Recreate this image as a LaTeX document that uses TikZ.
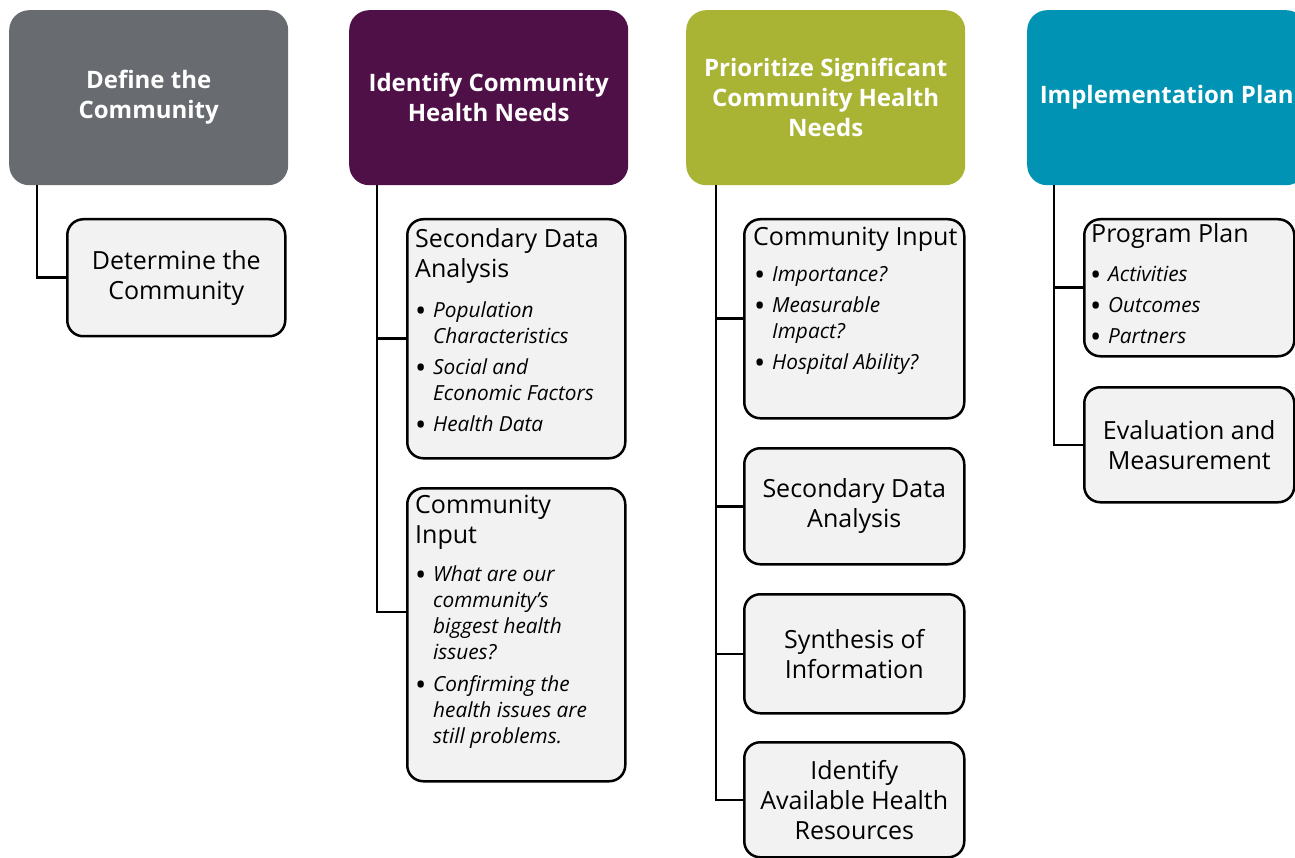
\documentclass[tikz,border=0pt]{standalone}
\usepackage{fontspec}
\setmainfont{Open Sans}
\definecolor{hgray}{HTML}{686C70}
\definecolor{hpurple}{HTML}{4E1046}
\definecolor{hgreen}{HTML}{A9B435}
\definecolor{hteal}{HTML}{0093B4}
\definecolor{cfill}{HTML}{F2F2F2}
\newcommand{\bi}{\makebox[18pt][l]{\raisebox{-4pt}[0pt][0pt]{\upshape\fontsize{30}{26}\selectfont\textbullet}}}
\newcommand{\bc}{\hspace*{18pt}}
\tikzset{
  head/.style={rounded corners=20pt, inner sep=0pt, minimum width=279pt, minimum height=175pt, anchor=north west, text=white, font=\fontsize{24}{30}\selectfont\bfseries, align=center},
  child/.style={draw=black, line width=2.5pt, fill=cfill, rounded corners=16pt, inner sep=0pt, anchor=north west, align=center, font=\fontsize{25}{30}\selectfont},
  ttl/.style={inner sep=0pt, anchor=base west, align=left, font=\fontsize{25}{30}\selectfont},
  bul/.style={inner sep=0pt, anchor=base west, align=left, font=\fontsize{20.8}{26}\selectfont\itshape},
  conn/.style={draw=black, line width=2.5pt},
}
\begin{document}
\begin{tikzpicture}[x=1pt,y=-1pt]
\useasboundingbox (0,0) rectangle (1295,858);
\fill[white] (0,0) rectangle (1295,858);
% headers
\node[head, fill=hgray] (h1) at (9,10) {Define the\\Community};
\node[head, fill=hpurple] (h2) at (349,10) {Identify Community\\Health Needs};
\node[head, fill=hgreen] (h3) at (686,10) {Prioritize Significant\\Community Health\\Needs};
\node[head, fill=hteal] (h4) at (1027,10) {Implementation Plan};
% children
\node[child, minimum width=218pt, minimum height=117pt] (c11) at (66,218) {Determine the\\Community};
\node[child, minimum width=218pt, minimum height=239pt] (c21) at (406,218) {};
\node[child, minimum width=218pt, minimum height=293pt] (c22) at (406,487) {};
\node[child, minimum width=220pt, minimum height=199pt] (c31) at (743,218) {};
\node[child, minimum width=220pt, minimum height=116pt] (c32) at (743,447) {Secondary Data\\Analysis};
\node[child, minimum width=220pt, minimum height=119pt] (c33) at (743,593) {Synthesis of\\Information};
\node[child, minimum width=220pt, minimum height=115pt] (c34) at (743,741) {Identify\\Available Health\\Resources};
\node[child, minimum width=210pt, minimum height=137pt] (c41) at (1083,218) {};
\node[child, minimum width=210pt, minimum height=115pt] (c42) at (1083,386) {Evaluation and\\Measurement};
% texts (anchored at baseline of last line)
\node[ttl] (t21) at (415,278) {Secondary Data\\Analysis};
\node[bul] (b21) at (415,431) {\bi Population\\\bc Characteristics\\[5pt]\bi Social and\\\bc Economic Factors\\[5pt]\bi Health Data};
\node[ttl] (t22) at (415,543) {Community\\Input};
\node[bul] (b22) at (415,743) {\bi What are our\\\bc community's\\\bc biggest health\\\bc issues?\\[6pt]\bi Confirming the\\\bc health issues are\\\bc still problems.};
\node[ttl] (t31) at (753,246) {Community Input};
\node[bul] (b31) at (754,370) {\bi Importance?\\[5pt]\bi Measurable\\\bc Impact?\\[5pt]\bi Hospital Ability?};
\node[ttl] (t41) at (1091,243) {Program Plan};
\node[bul] (b41) at (1090,344) {\bi Activities\\[5pt]\bi Outcomes\\[5pt]\bi Partners};
% connectors
\coordinate (t1) at ([xshift=28pt]h1.south west);
\coordinate (t2) at ([xshift=28pt]h2.south west);
\coordinate (t3) at ([xshift=30pt]h3.south west);
\coordinate (t4) at ([xshift=27pt]h4.south west);
\coordinate (e22) at (406,612);
\draw[conn] (t1) |- (c11.west);
\draw[conn] (t2) |- (e22);
\draw[conn] (t2 |- c21.west) -- (c21.west);
\draw[conn] (t3) |- (c34.west);
\draw[conn] (t3 |- c31.west) -- (c31.west);
\draw[conn] (t3 |- c32.west) -- (c32.west);
\draw[conn] (t3 |- c33.west) -- (c33.west);
\draw[conn] (t4) |- (c42.west);
\draw[conn] (t4 |- c41.west) -- (c41.west);
\end{tikzpicture}
\end{document}
